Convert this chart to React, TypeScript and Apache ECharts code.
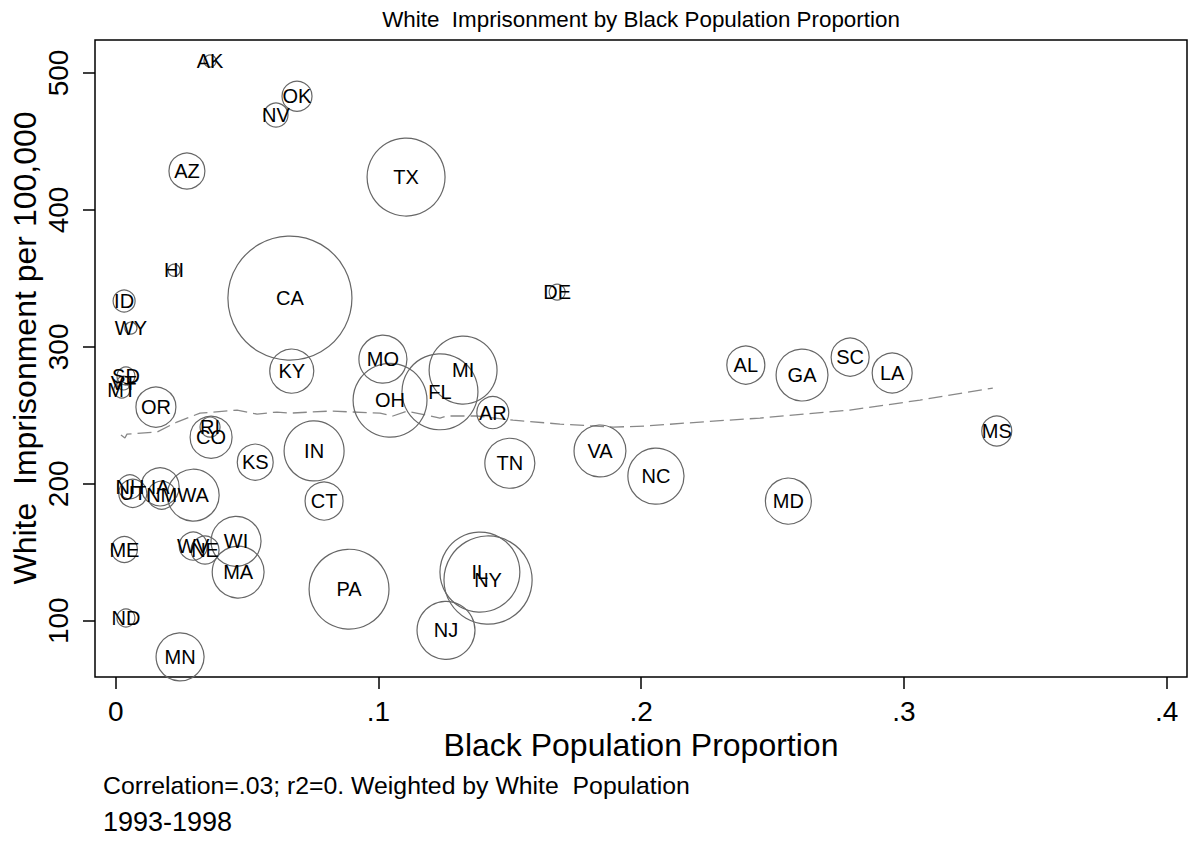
import React, { useEffect, useRef } from "react";
import * as echarts from "echarts";

// State abbreviations
const states = ["AK","OK","NV","AZ","TX","HI","ID","WY","CA","DE","SD","VT","MT","OR","KY","MO","MI","FL","OH","AR","TN","VA","NC","AL","GA","SC","LA","MS","MD","IN","CT","KS","RI","CO","PA","NJ","IL","NY","MA","WI","WV","NE","ME","ND","MN","NH","UT","IA","NM","WA"];
// Black population proportion
const blackProp = [0.0359,0.069,0.061,0.0271,0.1105,0.0222,0.0032,0.0058,0.0663,0.168,0.0039,0.003,0.0023,0.0153,0.067,0.1017,0.1322,0.1234,0.1044,0.1435,0.150,0.1843,0.2056,0.2398,0.2612,0.2795,0.2955,0.3353,0.256,0.0755,0.0793,0.0531,0.0359,0.0363,0.0888,0.1257,0.1386,0.1417,0.0466,0.0458,0.0295,0.034,0.0033,0.0039,0.0245,0.0054,0.0065,0.0169,0.0175,0.0295];
// White imprisonment per 100,000
const whiteImpr = [508.8,483,469.3,428.4,424,356,333.5,313.7,335.6,340,278.7,273.6,268.4,256,282.3,291,283,267.2,261,252,215,224,205.6,286.7,279.4,292.5,280.9,238.5,187.4,224,187.4,215.8,241.4,234,123,93,135.5,129.7,135.5,158,154.5,151.6,152,102,73.6,197.8,193,197.8,191.7,191.7];
// White population (millions, approximate weights)
const whitePop = [0.19,1.17,0.75,1.68,7.9,0.19,0.63,0.19,20,0.33,0.42,0.25,0.33,2.08,2.52,3.0,6.0,7.5,7.1,1.33,3.25,3.5,4.1,1.88,3.5,1.88,2.08,1.17,2.75,4.68,1.88,1.68,0.52,2.29,8.3,4.37,8.3,10.1,3.5,3.25,1.02,1.02,0.88,0.42,3.0,0.75,1.02,1.88,1.02,3.5];

// Lowess smoother
const lowessX = [0.002,0.0035,0.0043,0.0157,0.0233,0.0321,0.0462,0.0538,0.0614,0.0663,0.0815,0.1006,0.1055,0.1108,0.1234,0.126,0.1375,0.1512,0.1691,0.1893,0.2018,0.2224,0.2452,0.2794,0.3061,0.3338];
const lowessY = [235.6,233.4,236.3,237.8,245.1,251.6,253.8,250.9,252.4,251.6,253.1,251.6,249.5,253.1,248,249.5,249.5,246.5,243.6,241.4,242.2,245.1,248,253.8,261.1,269.9];

const xTicks = [0, 0.1, 0.2, 0.3, 0.4];
const yTicks = [100, 200, 300, 400, 500];

const FONT = "Liberation Sans, Arial, sans-serif";

export default function App() {
  const ref = useRef<HTMLDivElement>(null);
  useEffect(() => {
    if (!ref.current) return;
    const chart = echarts.init(ref.current, null, { renderer: "svg" });
    const bubbles = states.map((s, i) => [blackProp[i], whiteImpr[i], whitePop[i], s]);
    const lowess = lowessX.map((x, i) => [x, lowessY[i]]);
    chart.setOption({
      animation: false,
      backgroundColor: "#fff",
      textStyle: { fontFamily: FONT },
      grid: {
        left: 95, top: 40, width: 1092, height: 637,
        show: true, borderColor: "#000", borderWidth: 1.5, backgroundColor: "#fff",
      },
      xAxis: {
        type: "value",
        min: -0.00788, max: 0.4077,
        splitLine: { show: false },
        axisLine: { show: false, onZero: false },
        axisTick: { show: true, customValues: xTicks, length: 12, lineStyle: { color: "#000", width: 1.5 } },
        axisLabel: {
          customValues: xTicks, margin: 20, color: "#000", fontSize: 28, fontFamily: FONT,
          formatter: (v: number) => (v === 0 ? "0" : String(Math.round(v * 10) / 10).replace(/^0/, "")),
        },
      },
      yAxis: {
        type: "value",
        min: 58.9, max: 524.1,
        splitLine: { show: false },
        axisLine: { show: false, onZero: false },
        axisTick: { show: true, customValues: yTicks, length: 12, lineStyle: { color: "#000", width: 1.5 } },
        axisLabel: {
          customValues: yTicks, margin: 23, color: "#000", fontSize: 28, fontFamily: FONT, rotate: 90,
        },
      },
      graphic: [
        { type: "text", x: 641, y: 19, style: { text: "White  Imprisonment by Black Population Proportion", fontSize: 22.4, fill: "#000", fontFamily: FONT, align: "center", verticalAlign: "middle" } },
        { type: "text", x: 641, y: 745, style: { text: "Black Population Proportion", fontSize: 32, fill: "#000", fontFamily: FONT, align: "center", verticalAlign: "middle" } },
        { type: "text", x: 25, y: 348, rotation: Math.PI / 2, style: { text: "White  Imprisonment per 100,000", fontSize: 32, fill: "#000", fontFamily: FONT, align: "center", verticalAlign: "middle" } },
        { type: "text", x: 103, y: 785, style: { text: "Correlation=.03; r2=0. Weighted by White  Population", fontSize: 24.8, fill: "#000", fontFamily: FONT, align: "left", verticalAlign: "middle" } },
        { type: "text", x: 103, y: 822, style: { text: "1993-1998", fontSize: 27, fill: "#000", fontFamily: FONT, align: "left", verticalAlign: "middle" } },
      ],
      series: [
        {
          type: "scatter",
          data: bubbles,
          symbol: "circle",
          symbolSize: (v: any[]) => 2 * 13.87 * Math.sqrt(v[2]),
          itemStyle: { color: "rgba(0,0,0,0)", borderColor: "#666", borderWidth: 1.2, opacity: 1 },
          label: {
            show: true, position: "inside", formatter: (p: any) => p.data[3],
            color: "#000", fontSize: 20, fontFamily: FONT,
          },
          emphasis: { disabled: true },
          z: 3,
        },
        {
          type: "line",
          data: lowess,
          showSymbol: false,
          symbol: "none",
          lineStyle: { color: "#888", width: 1.3, type: [14, 6] },
          z: 2,
        },
      ],
    });
    return () => chart.dispose();
  }, []);
  return <div ref={ref} style={{ position: "fixed", left: 0, top: 0, width: 1191, height: 846 }} />;
}
